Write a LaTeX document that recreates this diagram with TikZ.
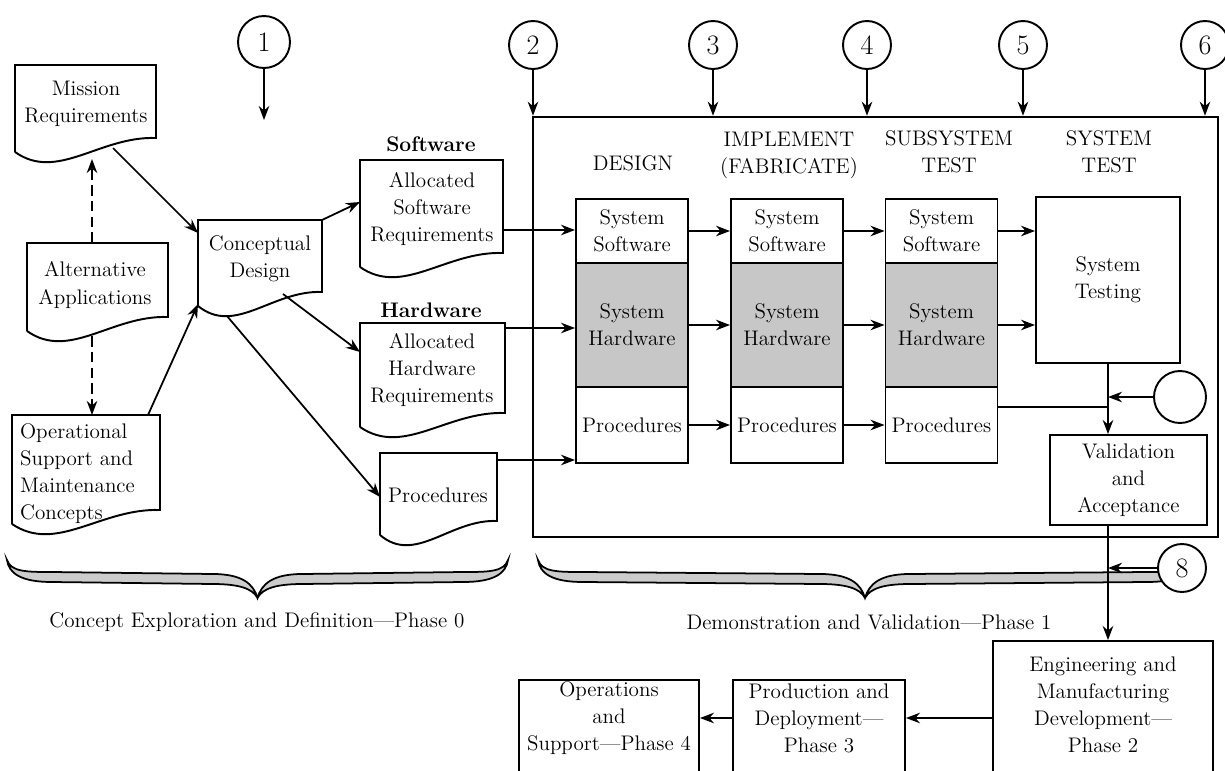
\documentclass[tikz,border=0pt]{standalone}
\usepackage{tikz}
\usetikzlibrary{arrows.meta}
\usetikzlibrary{calc}
\usetikzlibrary{positioning}

\begin{document}
\begin{tikzpicture}[
		x=0.02cm, y=-0.02cm,
		every node/.style={font=\fontsize{12}{15.4}\selectfont, inner sep=1pt, align=center},
		outline/.style={line width=1.1pt},
		box/.style={draw, line width=1.1pt},
		cell/.style={box, minimum width=2.24cm},
		hwshade/.style={fill=black!22},
		num/.style={draw, circle, line width=1.1pt, fill=white, minimum size=0.96cm, font=\fontsize{16}{18}\selectfont},
		label/.style={font=\fontsize{12}{15.4}\selectfont\bfseries},
		arr/.style={line width=1pt, -{Stealth[length=8pt, width=6pt]}},
		link/.style={line width=1pt}
	]
	\useasboundingbox (0,0) rectangle (1225,771);

	% phase braces
	\foreach \bl/\br in {7/508, 538/1192} {
			\pgfmathsetmacro{\bm}{(\bl+\br)/2}
			\draw[line width=1pt, fill=black!20]
			(\bl,560) .. controls (\bl+4,572) and (\bl+20,572) .. (\bl+45,572)
			-- (\bm-45,574) .. controls (\bm-15,574) and (\bm-4,584) .. (\bm,598)
			.. controls (\bm+4,584) and (\bm+15,574) .. (\bm+45,574)
			-- (\br-45,572) .. controls (\br-20,572) and (\br-4,572) .. (\br,560)
			.. controls (\br-2,574) and (\br-15,582) .. (\br-45,582)
			-- (\bm+45,584) .. controls (\bm+20,584) and (\bm+5,588) .. (\bm,598)
			.. controls (\bm-5,588) and (\bm-20,584) .. (\bm-45,584)
			-- (\bl+45,582) .. controls (\bl+15,582) and (\bl+2,574) .. (\bl,560) -- cycle;
		}
	\node (ph0) at (257,622) {Concept Exploration and Definition---Phase 0};
	\node (ph1) at (869,622) {Demonstration and Validation---Phase 1};

	% document symbols (left, right, top, bottom of right side)
	\foreach \xl/\xr/\yt/\yb in {15/156/65/138, 27/168/243/317, 12/160/415/510,
			198/322/220/292, 360/503/160/253, 360/505/323/413, 380/497/453/521} {
			\draw[outline] (\xl,{\yb+14}) -- (\xl,\yt) -- (\xr,\yt) -- (\xr,\yb)
			.. controls ({\xl+0.6*(\xr-\xl)},{\yb-2}) and ({\xl+0.3*(\xr-\xl)},{\yb+44}) .. (\xl,{\yb+14});
		}

	\node (mission) at (86,104) {Mission\\Requirements};
	\node (alt) at (95,285) {Alternative\\Applications};
	\node[anchor=west, align=left] (ops) at (18,474) {Operational\\Support and\\Maintenance\\Concepts};
	\node (concept) at (260,259) {Conceptual\\Design};
	\node (softdoc) at (432,209) {Allocated\\Software\\Requirements};
	\node (harddoc) at (432,370) {Allocated\\Hardware\\Requirements};
	\node (procdoc) at (438,495) {Procedures};
	\node[label] (softlab) at (431,144) {Software};
	\node[label] (hardlab) at (431,310) {Hardware};

	% connection points on the documents
	\coordinate (mission-in) at (92,159);
	\coordinate (mission-out) at (113,148);
	\coordinate (alt-top) at (92,243);
	\coordinate (alt-bot) at (92,336);
	\coordinate (ops-top) at (92,415);
	\coordinate (ops-out) at (148,415);
	\coordinate (concept-in1) at (198,233);
	\coordinate (concept-in2) at (198,304);
	\coordinate (concept-ne) at (322,220);
	\coordinate (concept-b1) at (283,294);
	\coordinate (concept-b2) at (227,316);
	\coordinate (softdoc-in) at (360,202);
	\coordinate (harddoc-in) at (360,352);
	\coordinate (procdoc-in) at (380,497);
	\coordinate (softdoc-out) at (503,230);
	\coordinate (harddoc-out) at (505,328);
	\coordinate (procdoc-out) at (497,460);

	\draw[arr, dash pattern=on 6pt off 3pt] (alt-top) -- (mission-in);
	\draw[arr, dash pattern=on 6pt off 3pt] (alt-bot) -- (ops-top);
	\draw[arr] (mission-out) -- (concept-in1);
	\draw[arr] (ops-out) -- (concept-in2);
	\draw[arr] (concept-ne) -- (softdoc-in);
	\draw[arr] (concept-b1) -- (harddoc-in);
	\draw[arr] (concept-b2) -- (procdoc-in);

	% phase 1 frame and numbered inputs
	\node[box, line width=1.5pt, minimum width=13.7cm, minimum height=8.4cm] (phase1) at (875.5,327) {};
	\node[num, minimum size=1.04cm] (c1) at (264,42) {1};
	\foreach \n/\cx in {2/533, 3/713, 4/867, 5/1023, 6/1205}
	\node[num] (c\n) at (\cx,45) {\n};
	\coordinate (c1-end) at (264,120);
	\draw[arr] (c1) -- (c1-end);
	\foreach \n in {2,...,6}
	\draw[arr] (c\n) -- (c\n |- phase1.north);

	% column heads
	\node (h-design) at (633,163) {DESIGN};
	\node (h-impl) at (789,155) {IMPLEMENT\\(FABRICATE)};
	\node (h-sub) at (949,152) {SUBSYSTEM\\TEST};
	\node (h-sys) at (1109,152) {SYSTEM\\TEST};

	% three columns of cells
	\foreach \cx/\nm in {632/d, 787/i, 941.5/s} {
			\node[cell, minimum height=1.28cm] (\nm-sw) at (\cx,231) {System\\Software};
			\node[cell, hwshade, minimum height=2.48cm] (\nm-hw) at (\cx,325) {System\\Hardware};
			\node[cell, minimum height=1.52cm] (\nm-pr) at (\cx,425) {Procedures};
		}
	\foreach \a/\b in {d/i, i/s}
	\foreach \r in {sw,hw,pr}
	\draw[arr] (\a-\r) -- (\b-\r);
	\draw[arr] (softdoc-out) -- (softdoc-out -| d-sw.west);
	\draw[arr] (harddoc-out) -- (harddoc-out -| d-hw.west);
	\draw[arr] (procdoc-out) -- (procdoc-out -| d-pr.west);

	% system test and acceptance
	\node[box, minimum width=2.88cm, minimum height=3.32cm] (test) at (1108,280) {System\\Testing};
	\node[box, minimum width=3.14cm, minimum height=1.8cm] (val) at (1128.5,480) {Validation\\and\\Acceptance};
	\node[num, minimum size=1.04cm] (c7) at (1180,397) {};
	\draw[arr] (s-sw) -- (s-sw -| test.west);
	\draw[arr] (s-hw) -- (s-hw -| test.west);
	\draw[arr] (test) -- (test |- val.north);
	\coordinate (pjoin) at (test |- 0,407);
	\draw[link] (s-pr.east |- pjoin) -- (pjoin);
	\draw[arr] (c7) -- (c7 -| test);

	% later phases
	\node[box, minimum width=4.4cm, minimum height=2.78cm] (eng) at (1103,710.5) {};
	\node (eng-t) at (1103,705) {Engineering and\\Manufacturing\\Development---\\Phase 2};
	\node[box, minimum width=3.44cm, minimum height=2cm] (prod) at (819,730) {};
	\node (prod-t) at (819,718) {Production and\\Deployment---\\Phase 3};
	\node[box, minimum width=3.6cm, minimum height=2cm] (oper) at (609,730) {};
	\node (oper-t) at (609,718) {Operations\\and\\Support---Phase 4};
	\node[num] (c8) at (1182,568) {8};
	\draw[arr] (test |- val.south) -- (test |- eng.north);
	\draw[arr] (c8) -- (c8 -| test);
	\draw[arr] (prod-t -| eng.west) -- (prod-t -| prod.east);
	\draw[arr] (prod-t -| prod.west) -- (prod-t -| oper.east);

\end{tikzpicture}
\end{document}
